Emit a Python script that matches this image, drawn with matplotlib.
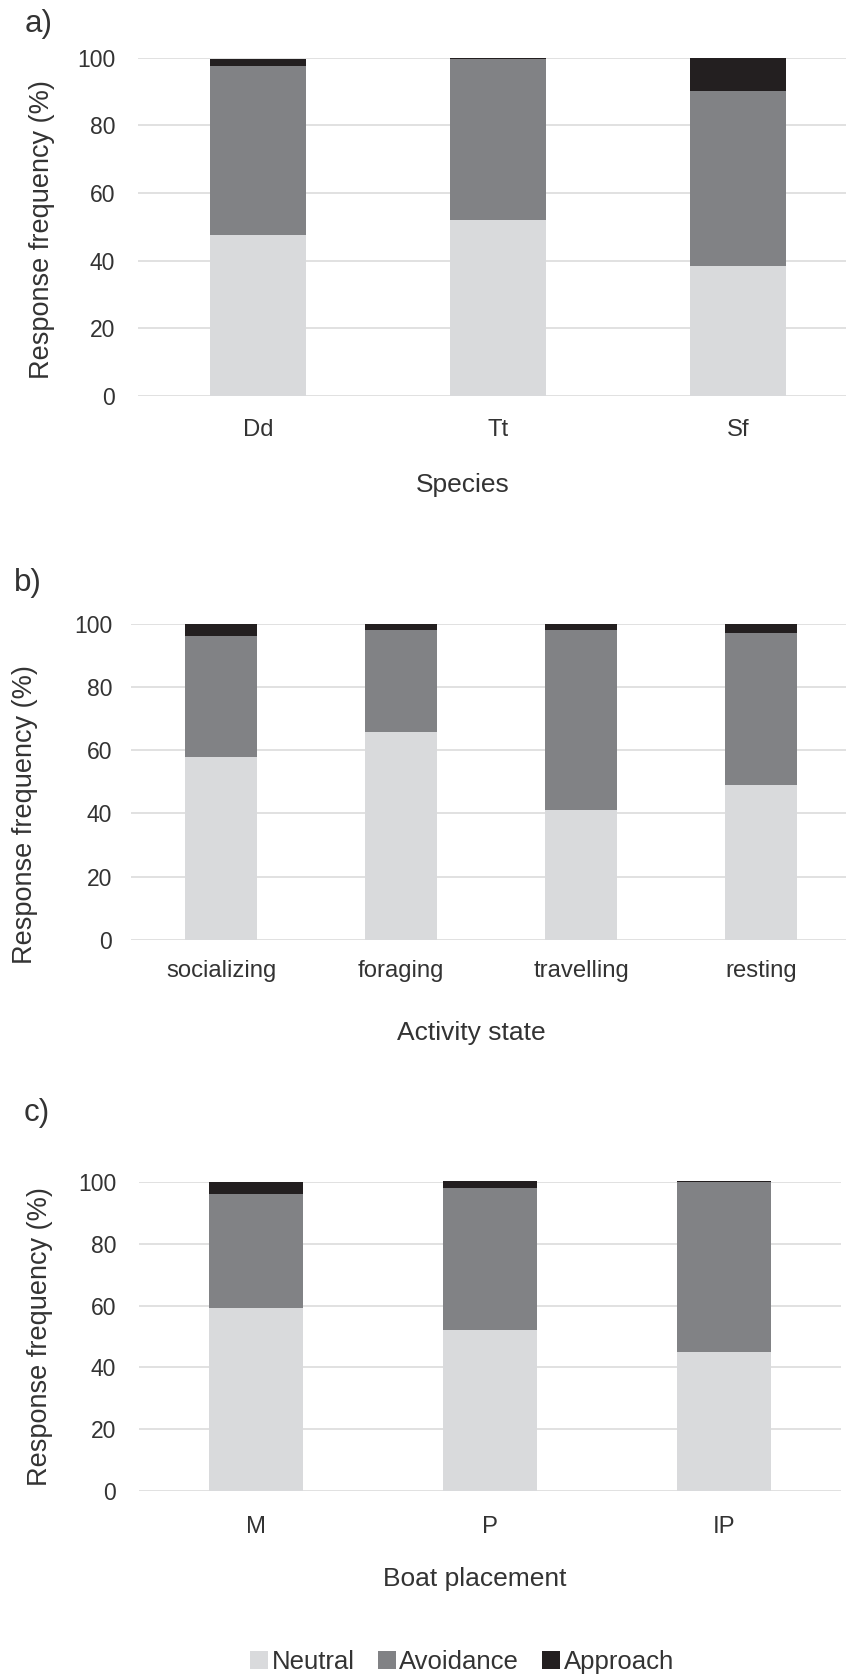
import matplotlib
matplotlib.use("Agg")
import matplotlib.pyplot as plt
import numpy as np
from matplotlib.patches import Patch

plt.rcParams['font.family'] = ['Liberation Sans', 'DejaVu Sans']

# panel a) species
species = ['Dd', 'Tt', 'Sf']
sp_neutral = [47.7, 52.0, 38.4]
sp_avoid = [49.8, 47.7, 51.8]
sp_approach = [2.1, 0.3, 9.8]

# panel b) activity state
activity = ['socializing', 'foraging', 'travelling', 'resting']
ac_neutral = [57.9, 65.8, 41.0, 48.9]
ac_avoid = [38.1, 32.3, 57.1, 48.0]
ac_approach = [4.0, 1.9, 1.9, 3.1]

# panel c) boat placement
placement = ['M', 'P', 'IP']
bp_neutral = [59.1, 52.2, 45.1]
bp_avoid = [37.1, 45.7, 54.8]
bp_approach = [3.8, 2.4, 0.4]

labels = ['Neutral', 'Avoidance', 'Approach']
colors = ['#d9dadc', '#818285', '#231f20']
txt = '#333333'

W, H = 846, 1676
fig = plt.figure(figsize=(W / 100, H / 100), dpi=100)


def px_axes(left, right, top, bottom):
    return fig.add_axes([left / W, 1 - bottom / H, (right - left) / W, (bottom - top) / H])


def panel(ax, cats, neu, avo, app, xlabel, ypad, xpad, ylab_x, ylab_y, xlab_x, xlab_gap):
    x = np.arange(len(cats))
    neu, avo, app = np.array(neu), np.array(avo), np.array(app)
    ax.bar(x, neu, 0.4, color=colors[0], zorder=3, clip_on=False)
    ax.bar(x, avo, 0.4, bottom=neu, color=colors[1], zorder=3, clip_on=False)
    ax.bar(x, app, 0.4, bottom=neu + avo, color=colors[2], zorder=3, clip_on=False)
    ax.set_xlim(-0.5, len(cats) - 0.5)
    ax.set_ylim(0, 100)
    ax.set_yticks(range(0, 101, 20))
    ax.set_xticks(x, cats)
    ax.yaxis.grid(True, color='#d9d9d9', linewidth=1.1, zorder=0)
    ax.set_axisbelow(True)
    for s in ax.spines.values():
        s.set_visible(False)
    ax.tick_params(axis='both', length=0, labelcolor=txt)
    ax.tick_params(axis='y', pad=ypad, labelsize=16.5)
    ax.tick_params(axis='x', pad=xpad, labelsize=17.2)
    pos = ax.get_position()
    hpx = pos.height * H
    wpx = pos.width * W
    lpx = pos.x0 * W
    tpx = (1 - pos.y1) * H
    ax.set_ylabel('Response frequency (%)', fontsize=19.5, color=txt, va='center')
    ax.yaxis.set_label_coords((ylab_x - lpx) / wpx, 1 - (ylab_y - tpx) / hpx)
    ax.set_xlabel(xlabel, fontsize=19, color=txt, va='center')
    ax.xaxis.set_label_coords((xlab_x - lpx) / wpx, -xlab_gap / hpx)


ax1 = px_axes(138, 858, 57.8, 395.8)
panel(ax1, species, sp_neutral, sp_avoid, sp_approach, 'Species',
      16.5, 16.5, 42, 230, 463, 89)

ax2 = px_axes(131, 851, 623.6, 940)
panel(ax2, activity, ac_neutral, ac_avoid, ac_approach, 'Activity state',
      13.5, 14.5, 25, 815, 471, 93)

ax3 = px_axes(139, 841, 1182, 1491)
panel(ax3, placement, bp_neutral, bp_avoid, bp_approach, 'Boat placement',
      16.5, 18, 40, 1337, 475, 88)

for lab, xx, yy in [('a)', 25, 24), ('b)', 14, 583), ('c)', 24, 1113)]:
    fig.text(xx / W, 1 - yy / H, lab, fontsize=22.5, color=txt, va='center', ha='left')

handles = [Patch(facecolor=c, edgecolor='none') for c in colors]
fig.legend(handles, labels, loc='center', bbox_to_anchor=(462 / W, 1 - 1662 / H), ncol=3,
           frameon=False, fontsize=18.5, handlelength=0.7, handleheight=0.7,
           handletextpad=0.15, columnspacing=0.9, labelcolor=txt)

fig.savefig('out.png', dpi=100)
